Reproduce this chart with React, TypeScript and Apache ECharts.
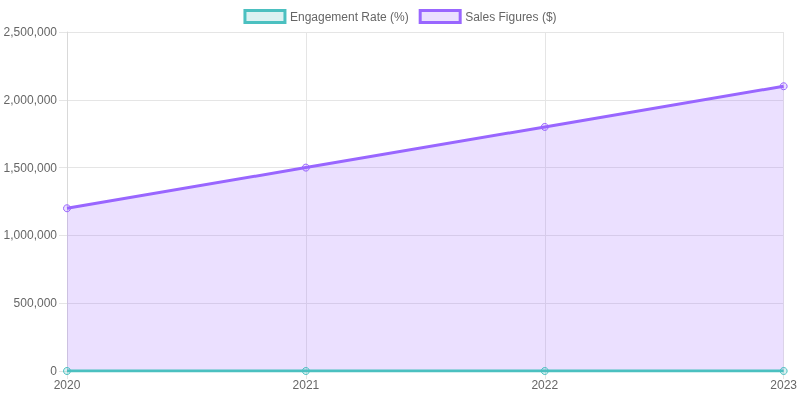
import React, { useEffect, useRef } from "react";
import * as echarts from "echarts";

const categories = ["2020", "2021", "2022", "2023"];
const engagementRate = [4.5, 5.2, 5.8, 6.3];
const salesFigures = [1200000, 1500000, 1800000, 2100000];
const seriesNames = ["Engagement Rate (%)", "Sales Figures ($)"];

const TEAL = "rgb(75,192,192)";
const TEAL_FILL = "rgba(75,192,192,0.2)";
const PURPLE = "rgb(153,102,255)";
const PURPLE_FILL = "rgba(153,102,255,0.2)";
const FONT = "'Liberation Sans', Arial, Helvetica, sans-serif";

export default function App() {
  const ref = useRef<HTMLDivElement>(null);
  useEffect(() => {
    if (!ref.current) return;
    const chart = echarts.init(ref.current, undefined, { renderer: "svg" });
    chart.setOption({
      animation: false,
      textStyle: { fontFamily: FONT },
      legend: {
        top: 4,
        left: "center",
        itemWidth: 40,
        itemHeight: 12,
        itemGap: 10,
        icon: "rect",
        textStyle: { color: "#666", fontSize: 12, fontFamily: FONT },
        data: [
          {
            name: seriesNames[0],
            itemStyle: { color: TEAL_FILL, borderColor: TEAL, borderWidth: 3 },
          },
          {
            name: seriesNames[1],
            itemStyle: { color: PURPLE_FILL, borderColor: PURPLE, borderWidth: 3 },
          },
        ],
      },
      grid: { left: 67, right: 16, top: 32, bottom: 29, containLabel: false },
      xAxis: {
        type: "category",
        data: categories,
        boundaryGap: false,
        axisLine: { show: true, lineStyle: { color: "#d9d9d9" } },
        axisTick: { show: true, length: 8, lineStyle: { color: "#e5e5e5" } },
        axisLabel: { color: "#666", fontSize: 12, margin: 8, fontFamily: FONT },
        splitLine: { show: true, lineStyle: { color: "#e5e5e5" } },
      },
      yAxis: {
        type: "value",
        min: 0,
        max: 2500000,
        interval: 500000,
        axisLine: { show: true, lineStyle: { color: "#d9d9d9" } },
        axisTick: { show: true, length: 8, lineStyle: { color: "#e5e5e5" } },
        axisLabel: {
          color: "#666",
          fontSize: 12,
          margin: 10,
          fontFamily: FONT,
          formatter: (v: number) => v.toLocaleString("en-US"),
        },
        splitLine: { show: true, lineStyle: { color: "#e5e5e5" } },
      },
      series: [
        {
          name: seriesNames[0],
          type: "line",
          data: engagementRate,
          symbol: "circle",
          symbolSize: 7,
          lineStyle: { color: TEAL, width: 3 },
          itemStyle: { color: TEAL_FILL, borderColor: TEAL, borderWidth: 1 },
          areaStyle: { color: TEAL_FILL, opacity: 1 },
          z: 3,
        },
        {
          name: seriesNames[1],
          type: "line",
          data: salesFigures,
          symbol: "circle",
          symbolSize: 7,
          lineStyle: { color: PURPLE, width: 3 },
          itemStyle: { color: PURPLE_FILL, borderColor: PURPLE, borderWidth: 1 },
          areaStyle: { color: PURPLE_FILL, opacity: 1 },
          z: 2,
        },
      ],
    });
    return () => chart.dispose();
  }, []);
  return (
    <div
      ref={ref}
      style={{ position: "fixed", left: 0, top: 0, width: 800, height: 400 }}
    />
  );
}
